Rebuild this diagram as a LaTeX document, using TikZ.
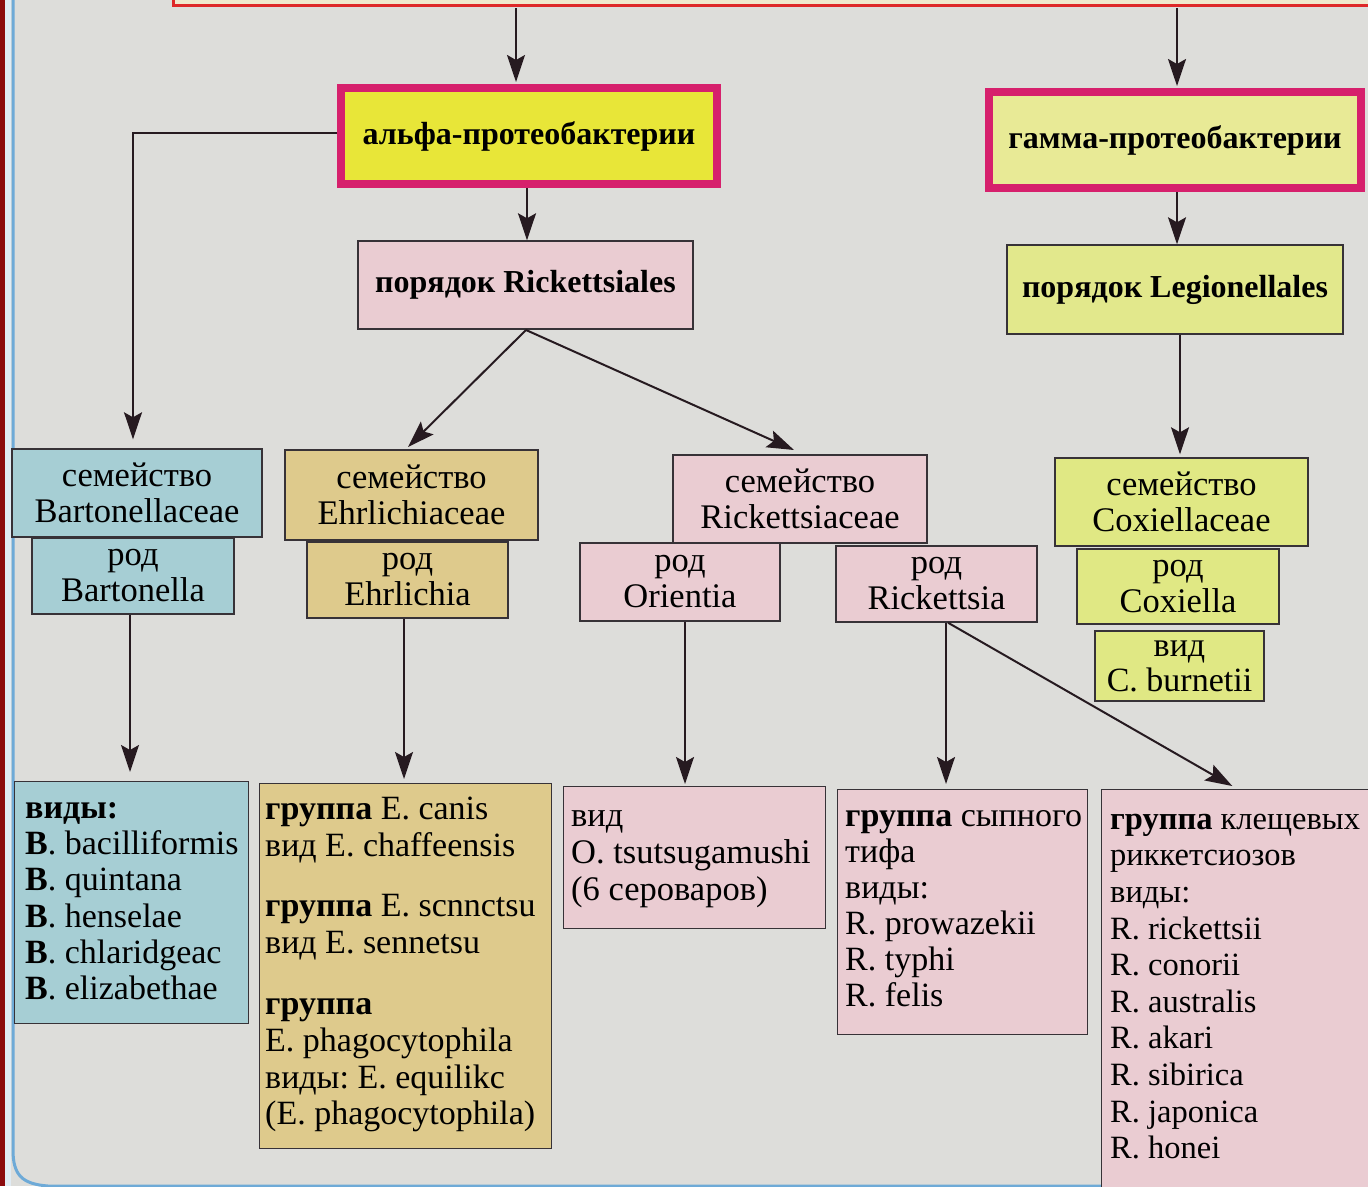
\documentclass[tikz,border=0pt]{standalone}
\usepackage{fontspec}
\setmainfont{Liberation Serif}
\frenchspacing
\usetikzlibrary{arrows.meta}
\definecolor{bg}{RGB}{221,221,218}
\definecolor{boxline}{RGB}{55,50,55}
\definecolor{arrowc}{RGB}{38,26,32}
\definecolor{magentaB}{RGB}{214,32,108}
\definecolor{alphaY}{RGB}{232,230,56}
\definecolor{gammaY}{RGB}{232,234,150}
\definecolor{legY}{RGB}{226,232,140}
\definecolor{coxY}{RGB}{224,232,132}
\definecolor{bartB}{RGB}{166,206,212}
\definecolor{ehrT}{RGB}{222,202,140}
\definecolor{rickP}{RGB}{234,204,210}
\definecolor{topred}{RGB}{222,40,40}
\definecolor{topfill}{RGB}{240,232,205}
\definecolor{darkred}{RGB}{140,12,14}
\definecolor{frameblue}{RGB}{110,170,215}
\definecolor{framelight}{RGB}{225,236,244}
\tikzset{
  box/.style={draw=boxline, line width=1.4pt, inner sep=0pt, align=center,
    font=\fontsize{34.5}{36}\selectfont},
  hdr/.style={draw=magentaB, line width=8pt, inner sep=0pt,
    font=\bfseries\fontsize{32}{34}\selectfont},
  ord/.style={draw=boxline, line width=1.4pt, inner sep=0pt,
    font=\bfseries\fontsize{32}{34}\selectfont},
  lst/.style={anchor=north west, inner sep=0pt, align=left},
  arr/.style={draw=arrowc, line width=2pt, -{Stealth[length=27pt,width=18pt,inset=5pt]}},
}
\newcommand{\fs}{\rule{0pt}{26pt}}
\begin{document}
\begin{tikzpicture}[x=1pt,y=-1pt]
\useasboundingbox (0,0) rectangle (1368,1186);
\clip (0,0) rectangle (1368,1186);
\fill[bg] (0,0) rectangle (1368,1186);
% page frame
\fill[darkred] (0,0) rectangle (5,1186);
\fill[framelight] (5,0) rectangle (11,1186);
\draw[frameblue, line width=3pt] (13,-5) -- (13,1150) .. controls (13,1175) and (22,1184) .. (48,1186) -- (1368,1186);
% top box
\node[draw=topred, fill=topfill, line width=3pt, minimum width=1300pt, minimum height=60pt, anchor=south west, inner sep=0pt] (topbox) at (171.5,6.5) {};
\coordinate (t1) at (516,8);
\coordinate (t2) at (1177,8);

% headers
\node[hdr, fill=alphaY, minimum width=376pt, minimum height=96pt] (alpha) at (529,136) {альфа-протеобактерии};
\node[hdr, fill=gammaY, minimum width=372pt, minimum height=96pt] (gamma) at (1175,140) {гамма-протеобактерии};

% orders
\node[ord, fill=rickP, minimum width=335pt, minimum height=88pt] (ricko) at (525.5,285) {порядок Rickettsiales};
\node[ord, fill=legY, minimum width=336pt, minimum height=89pt] (lego) at (1175,289.5) {порядок Legionellales};

% families and genera
\node[box, fill=bartB, minimum width=250pt, minimum height=88pt] (bartf) at (137,493) {семейство\\Bartonellaceae};
\node[box, fill=bartB, minimum width=202pt, minimum height=76pt] (bartg) at (133,576) {род\\Bartonella};
\node[box, fill=ehrT, minimum width=253pt, minimum height=90pt] (ehrf) at (411.5,495) {семейство\\Ehrlichiaceae};
\node[box, fill=ehrT, minimum width=201pt, minimum height=76pt] (ehrg) at (407.5,580) {род\\Ehrlichia};
\node[box, fill=rickP, minimum width=254pt, minimum height=88pt] (rickf) at (800,499) {семейство\\Rickettsiaceae};
\node[box, fill=rickP, minimum width=200pt, minimum height=78pt] (orig) at (680,582) {род\\Orientia};
\node[box, fill=rickP, minimum width=201pt, minimum height=76pt] (rickg) at (936.5,584) {род\\Rickettsia};
\node[box, fill=coxY, minimum width=253pt, minimum height=88pt] (coxf) at (1181.5,502) {семейство\\Coxiellaceae};
\node[box, fill=coxY, minimum width=202pt, minimum height=75pt] (coxg) at (1178,586.5) {род\\Coxiella};
\node[box, fill=coxY, minimum width=169pt, minimum height=70pt, font=\fontsize{34}{35}\selectfont] (coxs) at (1179.5,666) {вид\\C. burnetii};

% species lists (boxes)
\node[box, fill=bartB, minimum width=234pt, minimum height=242pt, anchor=north west] (l1) at (14,781) {};
\node[box, fill=ehrT, minimum width=292pt, minimum height=365pt, anchor=north west] (l2) at (259,783) {};
\node[box, fill=rickP, minimum width=262pt, minimum height=142pt, anchor=north west] (l3) at (563,786) {};
\node[box, fill=rickP, minimum width=250pt, minimum height=245pt, anchor=north west] (l4) at (837,789) {};
\node[box, fill=rickP, minimum width=280pt, minimum height=420pt, anchor=north west] (l5) at (1101,789) {};

% list texts
\node[lst, font=\fontsize{34}{36.3}\selectfont] (t1txt) at (25,792) {\fs\textbf{виды:}\\\textbf{B}. bacilliformis\\\textbf{B}. quintana\\\textbf{B}. henselae\\\textbf{B}. chlaridgeac\\\textbf{B}. elizabethae};
\node[lst, font=\fontsize{34}{36.8}\selectfont] (t2txt) at (265,793) {\fs\textbf{группа} E. canis\\вид E. chaffeensis\\[24pt]\textbf{группа} E. scnnctsu\\вид E. sennetsu\\[24pt]\textbf{группа}\\E. phagocytophila\\виды: E. equilikc\\(E. phagocytophila)};
\node[lst, font=\fontsize{34.5}{37}\selectfont] (t3txt) at (571,800) {\fs вид\\O. tsutsugamushi\\(6 сероваров)};
\node[lst, font=\fontsize{34}{36}\selectfont] (t4txt) at (845,800) {\fs\textbf{группа} сыпного\\тифа\\виды:\\R. prowazekii\\R. typhi\\R. felis};
\node[lst, font=\fontsize{32.5}{36.6}\selectfont] (t5txt) at (1110,803) {\fs\textbf{группа} клещевых\\риккетсиозов\\виды:\\R. rickettsii\\R. conorii\\R. australis\\R. akari\\R. sibirica\\R. japonica\\R. honei};

% connectors
\draw[arr, shorten >=2pt] (t1) -- (t1 |- alpha.north);
\draw[arr, shorten >=2pt] (t2) -- (t2 |- gamma.north);
\draw[arr] (alpha.south -| 527,0) -- (ricko.north -| 527,0);
\draw[arr] (gamma.south -| 1177,0) -- (lego.north -| 1177,0);
\draw[arr, shorten >=9pt] (alpha.west |- 0,133) -- (133,133) -- (bartf.north -| 133,0);
\coordinate (rs) at (526,330);
\draw[arr] (rs) -- (408,447);
\draw[arr] (rs) -- (794,450);
\draw[arr, shorten >=3pt] (lego.south -| 1180,0) -- (coxf.north -| 1180,0);
\draw[arr, shorten >=9pt] (bartg.south -| 130,0) -- (l1.north -| 130,0);
\draw[arr, shorten >=4pt] (ehrg.south -| 404,0) -- (l2.north -| 404,0);
\draw[arr, shorten >=2pt] (orig.south -| 685,0) -- (l3.north -| 685,0);
\draw[arr, shorten >=5pt] (rickg.south -| 946,0) -- (l4.north -| 946,0);
\draw[arr, shorten >=2pt] (rickg.south -| 948,0) -- (1234,787);
\end{tikzpicture}
\end{document}
